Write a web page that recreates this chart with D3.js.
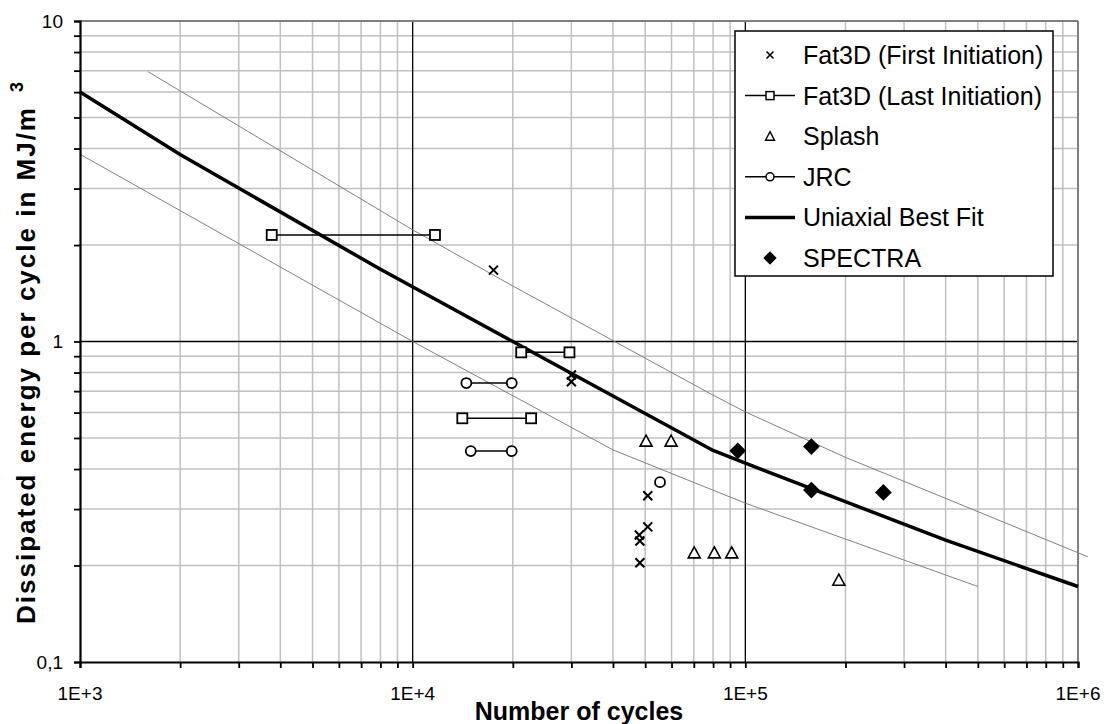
<!DOCTYPE html>
<html>
<head>
<meta charset="utf-8">
<script src="https://cdn.jsdelivr.net/npm/d3@7"></script>
<style>
    body { margin: 0; background: #fff; }
    text { font-family: "Liberation Sans", Arial, sans-serif; fill: #000; }
</style>
</head>
<body>
<div id="chart"></div>
<script>
// series data
var fitN = [1000, 2000, 8000, 20000, 80000, 100000, 400000, 1000000];
var fitE = [6.0, 3.83, 1.68, 1.0, 0.457, 0.417, 0.24, 0.172];

var upperN = [1600, 10000, 20000, 80000, 100000, 200000, 400000, 1070000];
var upperE = [6.95, 2.23, 1.49, 0.68, 0.603, 0.435, 0.324, 0.213];

var lowerN = [1000, 10000, 40000, 100000, 500000];
var lowerE = [3.84, 1.0, 0.459, 0.313, 0.172];

var firstN = [17500, 30000, 30000, 50900, 50900, 48000, 48200, 48200];
var firstE = [1.67, 0.786, 0.749, 0.33, 0.264, 0.249, 0.2385, 0.204];

var lastN = [[3770, 11670], [21200, 29600], [14100, 22700]];
var lastE = [2.15, 0.925, 0.576];

var splashN = [50300, 59800, 70200, 80700, 91000, 191000];
var splashE = [0.489, 0.489, 0.219, 0.219, 0.219, 0.180];

var jrcN = [[14500, 19850], [14950, 19850], [55400]];
var jrcE = [0.742, 0.455, 0.364];

var spectraN = [94900, 158000, 158000, 260000];
var spectraE = [0.456, 0.470, 0.344, 0.338];

var xTicks = [1e3, 1e4, 1e5, 1e6];
var xTickLabels = ["1E+3", "1E+4", "1E+5", "1E+6"];
var yTicks = [0.1, 1, 10];
var yTickLabels = ["0,1", "1", "10"];

var legendNames = ["Fat3D (First Initiation)", "Fat3D (Last Initiation)", "Splash", "JRC", "Uniaxial Best Fit", "SPECTRA"];

var svgWidth = 1107;
var svgHeight = 724;
var margin = { top: 21, right: 29, bottom: 62, left: 80 };
var width = svgWidth - margin.left - margin.right;
var height = svgHeight - margin.top - margin.bottom;

var svg = d3.select("#chart")
    .append("svg")
    .attr("width", svgWidth)
    .attr("height", svgHeight);

var chartGroup = svg.append("g")
    .attr("transform", `translate(${margin.left}, ${margin.top})`);

var x = d3.scaleLog().domain([1e3, 1e6]).range([0, width]);
var y = d3.scaleLog().domain([0.1, 10]).range([height, 0]);

function minorValues(lo, hi)
{
    var out = [];
    for (var p = lo; p < hi; p *= 10)
    {
        for (var k = 2; k <= 9; k++)
        {
            out.push(p * k);
        }
    }
    return out;
}

var xMinor = minorValues(1e3, 1e6);
var yMinor = minorValues(0.1, 10);

// grid
chartGroup.append("g").selectAll("line")
    .data(xMinor)
    .enter()
    .append("line")
    .attr("x1", d => x(d)).attr("x2", d => x(d))
    .attr("y1", 0).attr("y2", height)
    .attr("stroke", "#c0c0c0")
    .attr("stroke-width", 1.5);

chartGroup.append("g").selectAll("line")
    .data(yMinor)
    .enter()
    .append("line")
    .attr("x1", 0).attr("x2", width)
    .attr("y1", d => y(d)).attr("y2", d => y(d))
    .attr("stroke", "#c0c0c0")
    .attr("stroke-width", 1.5);

chartGroup.append("g").selectAll("line")
    .data([1e4, 1e5])
    .enter()
    .append("line")
    .attr("x1", d => x(d)).attr("x2", d => x(d))
    .attr("y1", 0).attr("y2", height)
    .attr("stroke", "#000")
    .attr("stroke-width", 1.3);

chartGroup.append("line")
    .attr("x1", 0).attr("x2", width)
    .attr("y1", y(1)).attr("y2", y(1))
    .attr("stroke", "#000")
    .attr("stroke-width", 1.3);

// plot border top/right
chartGroup.append("line")
    .attr("x1", 0).attr("x2", width).attr("y1", 0).attr("y2", 0)
    .attr("stroke", "#808080").attr("stroke-width", 2);
chartGroup.append("line")
    .attr("x1", width).attr("x2", width).attr("y1", 0).attr("y2", height)
    .attr("stroke", "#808080").attr("stroke-width", 2);

var line = d3.line()
    .x(d => x(d[0]))
    .y(d => y(d[1]));

function pairs(ns, es)
{
    return ns.map((n, i) => [n, es[i]]);
}

// scatter bands
chartGroup.append("path")
    .datum(pairs(upperN, upperE))
    .attr("d", line)
    .attr("fill", "none")
    .attr("stroke", "#808080")
    .attr("stroke-width", 1);

chartGroup.append("path")
    .datum(pairs(lowerN, lowerE))
    .attr("d", line)
    .attr("fill", "none")
    .attr("stroke", "#808080")
    .attr("stroke-width", 1);

// uniaxial best fit
chartGroup.append("path")
    .datum(pairs(fitN, fitE))
    .attr("d", line)
    .attr("fill", "none")
    .attr("stroke", "#000")
    .attr("stroke-width", 3.5);

// connected pairs
function segData(nsList, es)
{
    return nsList.map((ns, i) => ns.map(n => [n, es[i]]));
}

var lastSegs = segData(lastN, lastE);
var jrcSegs = segData(jrcN, jrcE);

chartGroup.append("g").selectAll("path")
    .data(lastSegs.concat(jrcSegs).filter(s => s.length > 1))
    .enter()
    .append("path")
    .attr("d", line)
    .attr("fill", "none")
    .attr("stroke", "#000")
    .attr("stroke-width", 1.5);

// markers
var triPath = "M0,-6L6,5L-6,5Z";
var crossPath = "M-4.5,-4.5L4.5,4.5M-4.5,4.5L4.5,-4.5";

chartGroup.append("g").selectAll("path")
    .data(pairs(firstN, firstE))
    .enter()
    .append("path")
    .attr("transform", d => `translate(${x(d[0])}, ${y(d[1])})`)
    .attr("d", crossPath)
    .attr("stroke", "#000")
    .attr("stroke-width", 2);

chartGroup.append("g").selectAll("rect")
    .data(lastSegs.flat())
    .enter()
    .append("rect")
    .attr("x", d => x(d[0]) - 5)
    .attr("y", d => y(d[1]) - 5)
    .attr("width", 10)
    .attr("height", 10)
    .attr("fill", "#fff")
    .attr("stroke", "#000")
    .attr("stroke-width", 1.8);

chartGroup.append("g").selectAll("circle")
    .data(jrcSegs.flat())
    .enter()
    .append("circle")
    .attr("cx", d => x(d[0]))
    .attr("cy", d => y(d[1]))
    .attr("r", 5)
    .attr("fill", "#fff")
    .attr("stroke", "#000")
    .attr("stroke-width", 1.8);

chartGroup.append("g").selectAll("path")
    .data(pairs(splashN, splashE))
    .enter()
    .append("path")
    .attr("transform", d => `translate(${x(d[0])}, ${y(d[1])})`)
    .attr("d", triPath)
    .attr("fill", "#fff")
    .attr("stroke", "#000")
    .attr("stroke-width", 1.6);

var diamond = d3.symbol().type(d3.symbolSquare).size(140);

chartGroup.append("g").selectAll("path")
    .data(pairs(spectraN, spectraE))
    .enter()
    .append("path")
    .attr("transform", d => `translate(${x(d[0])}, ${y(d[1])}) rotate(45)`)
    .attr("d", diamond)
    .attr("fill", "#000");

// axes
var bottomAxis = d3.axisBottom(x)
    .tickValues(xTicks.concat(xMinor))
    .tickSize(6)
    .tickFormat("");
var leftAxis = d3.axisLeft(y)
    .tickValues(yTicks.concat(yMinor))
    .tickSize(6)
    .tickFormat("");

var xAxisG = chartGroup.append("g")
    .attr("transform", `translate(0, ${height})`)
    .call(bottomAxis);
var yAxisG = chartGroup.append("g")
    .call(leftAxis);

[xAxisG, yAxisG].forEach(g =>
{
    g.select(".domain").attr("stroke", "#000").attr("stroke-width", 2.2);
    g.selectAll(".tick line").attr("stroke", "#000").attr("stroke-width", 1.8);
});

chartGroup.append("g").selectAll("text")
    .data(xTicks)
    .enter()
    .append("text")
    .attr("x", d => x(d))
    .attr("y", height + 38)
    .attr("text-anchor", "middle")
    .style("font-size", "19px")
    .text((d, i) => xTickLabels[i]);

chartGroup.append("g").selectAll("text")
    .data(yTicks)
    .enter()
    .append("text")
    .attr("x", -17)
    .attr("y", d => y(d))
    .attr("dy", "0.36em")
    .attr("text-anchor", "end")
    .style("font-size", "19px")
    .text((d, i) => yTickLabels[i]);

// axis titles
svg.append("text")
    .attr("x", margin.left + width / 2)
    .attr("y", 720)
    .attr("text-anchor", "middle")
    .style("font-size", "25px")
    .style("font-weight", "bold")
    .text("Number of cycles");

var yTitle = svg.append("text")
    .attr("transform", "translate(35, 352) rotate(-90)")
    .attr("text-anchor", "middle")
    .style("font-size", "26px")
    .style("font-weight", "bold")
    .style("letter-spacing", "2px")
    .text("Dissipated energy per cycle in MJ/m");
yTitle.append("tspan")
    .attr("dx", 14)
    .attr("dy", -12)
    .style("font-size", "18px")
    .text("3");

// legend
var legend = svg.append("g")
    .attr("transform", "translate(735, 31)");

legend.append("rect")
    .attr("width", 318)
    .attr("height", 245)
    .attr("fill", "#fff")
    .attr("stroke", "#000")
    .attr("stroke-width", 1.5);

var rowY = d => 24 + d * 40.6;
var mx = 35;

legendNames.forEach((name, i) =>
{
    legend.append("text")
        .attr("x", 68)
        .attr("y", rowY(i))
        .attr("dy", "0.36em")
        .style("font-size", "25px")
        .text(name);
});

legend.append("path")
    .attr("transform", `translate(${mx}, ${rowY(0)})`)
    .attr("d", "M-3.5,-3.5L3.5,3.5M-3.5,3.5L3.5,-3.5")
    .attr("stroke", "#000")
    .attr("stroke-width", 1.6);

[1, 3].forEach(i =>
{
    legend.append("line")
        .attr("x1", 10).attr("x2", 60)
        .attr("y1", rowY(i)).attr("y2", rowY(i))
        .attr("stroke", "#000")
        .attr("stroke-width", 1.5);
});

legend.append("rect")
    .attr("x", mx - 4).attr("y", rowY(1) - 4)
    .attr("width", 8).attr("height", 8)
    .attr("fill", "#fff")
    .attr("stroke", "#000")
    .attr("stroke-width", 1.5);

legend.append("path")
    .attr("transform", `translate(${mx}, ${rowY(2)})`)
    .attr("d", "M0,-4.5L4.5,4L-4.5,4Z")
    .attr("fill", "#fff")
    .attr("stroke", "#000")
    .attr("stroke-width", 1.4);

legend.append("circle")
    .attr("cx", mx).attr("cy", rowY(3))
    .attr("r", 4)
    .attr("fill", "#fff")
    .attr("stroke", "#000")
    .attr("stroke-width", 1.5);

legend.append("line")
    .attr("x1", 10).attr("x2", 60)
    .attr("y1", rowY(4)).attr("y2", rowY(4))
    .attr("stroke", "#000")
    .attr("stroke-width", 3.5);

legend.append("path")
    .attr("transform", `translate(${mx}, ${rowY(5)}) rotate(45)`)
    .attr("d", d3.symbol().type(d3.symbolSquare).size(90))
    .attr("fill", "#000");
</script>
</body>
</html>
